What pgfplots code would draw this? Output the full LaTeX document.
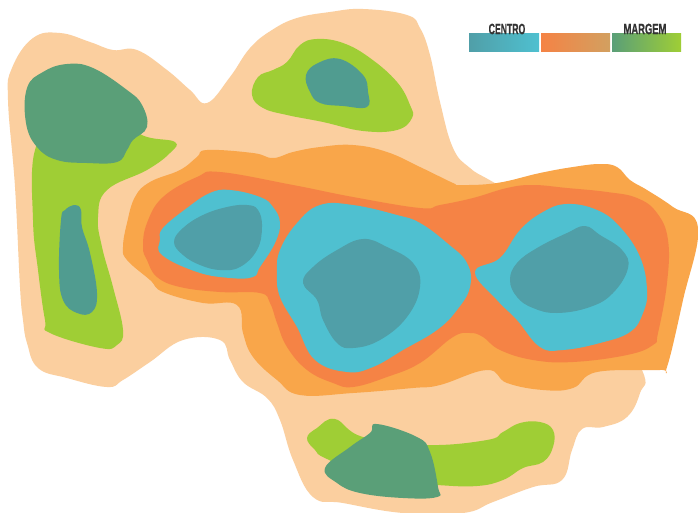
\documentclass[border=0pt]{standalone}
\usepackage{fontspec}
\setmainfont{Liberation Sans}
\newfontfamily\legendfont{Liberation Sans Bold}[FakeBold=0.8]
\usepackage{pgfplots}
\pgfplotsset{compat=1.18}

\definecolor{peach}{HTML}{FBCF9F}
\definecolor{lightorange}{HTML}{F9A64A}
\definecolor{darkorange}{HTML}{F58345}
\definecolor{tanfill}{HTML}{D2A060}
\definecolor{cyanfill}{HTML}{4FC0D0}
\definecolor{tealfill}{HTML}{509FA8}
\definecolor{greenfill}{HTML}{9FCE35}
\definecolor{darkgreen}{HTML}{5A9F78}
\definecolor{midteal}{HTML}{509C90}

\pgfplotsset{zone/.style={draw=none, no markers, fill=#1, smooth cycle, tension=0.7}}

\begin{document}
\begin{tikzpicture}
\begin{axis}[
    hide axis, scale only axis,
    width=698bp, height=513bp,
    xmin=0, xmax=698, ymin=0, ymax=513,
    y dir=reverse,
    clip=true,
]
% background, keeps the page at full size
\addplot[draw=none, no markers, fill=white] coordinates {(0,0)(698,0)(698,513)(0,513)} --cycle;

% outer margin area
\addplot[zone=peach] coordinates {
(60,33)(90,42)(113,50)(137,50)(167,70)(190,90)(207,103)(230,77)(250,48)(272,30)(297,18)(330,12)(363,9)(407,15)
(420,28)(430,55)(440,102)(453,148)(470,168)(493,182)(560,220)(600,300)(642,370)(640,393)(627,417)(603,427)(582,429)
(572,450)(562,480)(533,487)(493,502)(463,513)(403,513)(343,503)(313,497)(293,460)(280,420)(267,398)(243,382)(230,360)
(220,340)(183,340)(150,362)(123,380)(107,387)(67,378)(38,368)(27,343)(23,320)(20,287)(15,187)(8,100)(12,68)(33,38)
};

% orange ring
\addplot[zone=lightorange] coordinates {
(123,247)(127,260)(150,280)(163,292)(203,303)(237,305)(243,333)(253,357)(277,380)(300,395)(353,393)(413,388)
(440,385)(487,370)(507,383)(543,390)(573,388)(597,372)(660,370)(667,367)(683,300)(698,228)(673,207)(647,190)(630,180)
(617,167)(600,164)(573,167)(540,173)(497,183)(460,185)(453,183)(420,167)(387,152)(353,145)(320,147)(293,152)
(273,158)(253,153)(207,150)(197,157)(180,170)(150,182)(135,197)(127,223)
};
\addplot[zone=darkorange] coordinates {
(143,247)(147,260)(157,277)(180,287)(220,292)(260,293)(270,303)(277,323)(287,347)(307,370)(333,383)(353,387)
(387,377)(420,363)(453,337)(470,333)(483,337)(500,350)(533,360)(573,362)(627,355)(653,345)(658,333)(667,283)
(668,240)(657,213)(637,198)(607,192)(567,188)(533,185)(507,188)(473,198)(440,205)(420,208)(353,197)(293,185)
(220,172)(197,177)(163,197)(147,223)
};

% centre blobs
\addplot[zone=cyanfill] coordinates {
(160,240)(162,255)(197,272)(230,278)(253,277)(260,267)(275,243)(280,223)(273,207)(260,197)(230,190)(210,193)(187,208)(163,228)
};
\addplot[zone=tealfill] coordinates {
(174,242)(183,255)(200,265)(220,270)(240,267)(257,250)(262,227)(258,210)(247,205)(227,207)(203,215)(183,228)
};
\addplot[zone=cyanfill] coordinates {
(277,273)(280,297)(297,327)(315,360)(347,372)(373,367)(403,350)(437,330)(457,310)(470,287)(467,263)(447,243)
(420,223)(397,215)(353,205)(320,205)(297,223)(280,250)
};
\addplot[zone=tealfill] coordinates {
(303,283)(317,300)(323,320)(337,343)(353,348)(380,340)(407,317)(420,287)(413,263)(387,247)(363,239)(337,250)(313,267)
};
\addplot[zone=cyanfill] coordinates {
(475,272)(497,300)(517,320)(540,347)(563,350)(600,343)(630,332)(643,313)(647,290)(640,257)(620,227)(597,210)
(567,204)(543,212)(520,230)(500,258)
};
\addplot[zone=tealfill] coordinates {
(510,280)(517,297)(533,308)(557,313)(590,307)(613,293)(628,268)(622,250)(600,235)(585,226)(567,233)(537,248)(517,263)
};

% margin blobs
\addplot[zone=greenfill] coordinates {
(252,95)(258,77)(273,70)(287,62)(300,45)(317,39)(343,43)(370,58)(397,82)(410,105)(412,118)(397,130)(363,131)(323,122)(287,115)(263,108)
};
\addplot[zone=midteal] coordinates {
(306,75)(310,92)(320,103)(343,106)(367,107)(368,92)(363,75)(340,59)(318,63)
};
\addplot[zone=greenfill] coordinates {
(35,150)(33,220)(38,270)(45,320)(50,333)(100,348)(117,345)(123,330)(113,287)(102,247)(98,217)(107,190)(147,170)
(170,153)(175,142)(147,137)(117,125)(60,125)
};
\addplot[zone=darkgreen] coordinates {
(27,88)(26,123)(37,147)(57,160)(87,163)(117,162)(127,150)(133,140)(147,127)(142,105)(127,90)(93,68)(67,64)(43,72)
};
\addplot[zone=midteal] coordinates {
(61,220)(59,270)(63,300)(77,313)(92,312)(97,293)(90,253)(82,227)(81,210)(75,205)(65,210)
};
\addplot[zone=greenfill] coordinates {
(307,438)(315,450)(327,459)(380,480)(437,485)(477,486)(503,480)(523,468)(543,462)(553,447)(553,430)(540,422)
(520,423)(503,432)(487,440)(427,445)(363,437)(335,419)(317,428)
};
\addplot[zone=darkgreen] coordinates {
(325,468)(337,483)(360,493)(403,498)(437,497)(438,487)(430,452)(417,437)(377,424)(370,433)(350,447)
};

% legend bars
\addplot[draw=none, no markers, left color=tealfill, right color=cyanfill] coordinates {(469,34)(539,34)(539,52)(469,52)} --cycle;
\addplot[draw=none, no markers, left color=darkorange, right color=tanfill] coordinates {(541,34)(610,34)(610,52)(541,52)} --cycle;
\addplot[draw=none, no markers, left color=darkgreen, right color=greenfill] coordinates {(612,34)(681,34)(681,52)(612,52)} --cycle;

\node[font=\legendfont\fontsize{15}{15}\selectfont, text=black!80, xscale=0.58, inner sep=0pt] at (axis cs:507,29) {CENTRO};
\node[font=\legendfont\fontsize{15}{15}\selectfont, text=black!80, xscale=0.63, inner sep=0pt] at (axis cs:645,29) {MARGEM};
\end{axis}
\end{tikzpicture}
\end{document}
